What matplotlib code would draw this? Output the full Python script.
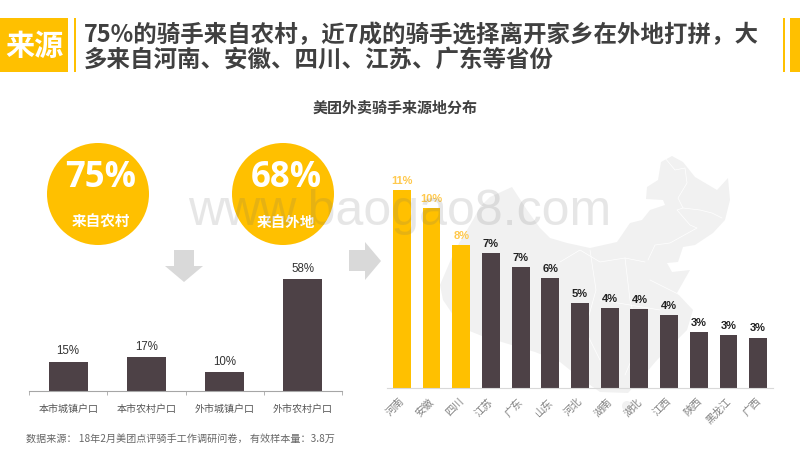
# -*- coding: utf-8 -*-
import matplotlib
matplotlib.use("Agg")
from matplotlib import pyplot as plt
from matplotlib.patches import Circle, Polygon, Rectangle
from matplotlib.ticker import FixedLocator
from matplotlib.transforms import ScaledTranslation

plt.rcParams['font.family'] = ['Noto Sans CJK SC', 'DejaVu Sans']

##############################################################################
# DATA
##############################################################################

HUKOU_NAMES = ['本市城镇户口', '本市农村户口', '外市城镇户口', '外市农村户口']
HUKOU_VALUES = [15.2, 17.4, 9.8, 58]
HUKOU_LABELS = ['15%', '17%', '10%', '58%']

PROVINCES = ['河南', '安徽', '四川', '江苏', '广东', '山东', '河北', '湖南', '湖北',
             '江西', '陕西', '黑龙江', '广西']
PROVINCE_VALUES = [11, 10, 7.95, 7.5, 6.7, 6.1, 4.7, 4.45, 4.4, 4.05, 3.1, 2.95, 2.8]
PROVINCE_LABELS = ['11%', '10%', '8%', '7%', '7%', '6%', '5%', '4%', '4%', '4%', '3%', '3%', '3%']
NB_HIGHLIGHT = 3

TITLE_1 = '75%的骑手来自农村，近7成的骑手选择离开家乡在外地打拼，大'
TITLE_2 = '多来自河南、安徽、四川、江苏、广东等省份'
SUBTITLE = '美团外卖骑手来源地分布'
SOURCE = '数据来源： 18年2月美团点评骑手工作调研问卷， 有效样本量：3.8万'

YELLOW = '#FFC000'
DARK = '#4D4146'
TEXT = '#404040'

# contour de la carte en fond (pixels de la figure)
MAP_OUTLINE = [(512, 187), (527, 210), (540, 228), (550, 238), (567, 243), (590, 248),
               (617, 242), (630, 223), (642, 220), (650, 210), (665, 205), (663, 200),
               (646, 199), (647, 187), (658, 180), (661, 162), (672, 156), (683, 162),
               (695, 177), (717, 190), (728, 178), (730, 200), (725, 220), (713, 233),
               (695, 245), (683, 247), (678, 262), (667, 263), (672, 272), (690, 270),
               (677, 293), (693, 310), (687, 330), (657, 360), (640, 380), (628, 393),
               (600, 392), (580, 378), (560, 362), (535, 352), (505, 343), (482, 336),
               (462, 328), (443, 300), (440, 285), (455, 250), (473, 220), (480, 207),
               (490, 197)]
MAP_BORDERS = [[(665, 158), (675, 170), (685, 168), (687, 183), (678, 198), (683, 208),
                (677, 210), (690, 225), (697, 228), (670, 243), (655, 245), (648, 260)],
               [(683, 208), (700, 210), (712, 213), (722, 218)],
               [(560, 262), (580, 250), (600, 262), (625, 258), (645, 262)],
               [(590, 250), (596, 290), (585, 330), (600, 360)],
               [(625, 258), (630, 300), (640, 340), (625, 375)],
               [(650, 280), (680, 295)], [(600, 300), (660, 310)]]

##############################################################################
# FIGURE
##############################################################################

fig = plt.figure(figsize=(8, 4.5), dpi=100)

# calque en pixels pour tout ce qui n'est pas un graphique
bg = fig.add_axes([0, 0, 1, 1], zorder=0)
bg.set_xlim(0, 800)
bg.set_ylim(450, 0)
bg.axis('off')

bg.add_patch(Rectangle((0, 18), 68, 54, color=YELLOW, lw=0))
bg.add_patch(Rectangle((74, 18), 2, 54, color=YELLOW, lw=0))
bg.add_patch(Rectangle((783, 18), 2, 54, color=YELLOW, lw=0))
bg.add_patch(Rectangle((790, 18), 10, 54, color=YELLOW, lw=0))
bg.text(34, 46, '来源', color='white', fontsize=21, fontweight='bold', ha='center', va='center')

bg.text(84, 35, TITLE_1, color=TEXT, fontsize=16.9, fontweight='bold', va='center')
bg.text(84, 60, TITLE_2, color=TEXT, fontsize=16.9, fontweight='bold', va='center')
bg.text(395, 108, SUBTITLE, color=TEXT, fontsize=10.8, fontweight='bold', ha='center', va='center')
bg.text(26, 439, SOURCE, color='#666666', fontsize=7.25, va='center')

bg.add_patch(Polygon(MAP_OUTLINE, closed=True, color='#F1F1F1', lw=0))
bg.add_patch(Circle((627, 406), 5, color='#F1F1F1', lw=0))
for border in MAP_BORDERS:
    bg.plot([p[0] for p in border], [p[1] for p in border], color='white', lw=0.5)

for cx, big, small in [(98, '75%', '来自农村'), (283, '68%', '来自外地')]:
    bg.add_patch(Circle((cx, 194), 51, color=YELLOW, lw=0))
    bg.text(cx + 3, 178, big, color='white', fontsize=25, fontweight='bold', family='Open Sans',
            ha='center', va='center')
    bg.text(cx + 3, 222, small, color='white', fontsize=10.5, fontweight='bold', ha='center', va='center')

bg.add_patch(Polygon([(174, 250), (194, 250), (194, 266), (203, 266), (184, 282), (165, 266), (174, 266)],
                     closed=True, color='#D9D9D9', lw=0))
bg.add_patch(Polygon([(349, 250), (365, 250), (365, 242), (381, 261), (365, 280), (365, 271), (349, 271)],
                     closed=True, color='#D9D9D9', lw=0))


def chart_axes(x0, x1, y_base, px_per_unit, nb, top_value):
    """Axes placés en pixels : baseline y_base, une catégorie par unité en x"""
    height = top_value * px_per_unit
    ax = fig.add_axes([x0 / 800, (450 - y_base) / 450, (x1 - x0) / 800, height / 450], zorder=1)
    ax.patch.set_alpha(0)
    ax.set_xlim(-0.5, nb - 0.5)
    ax.set_ylim(0, top_value)
    for side in ['top', 'left', 'right']:
        ax.spines[side].set_visible(False)
    ax.yaxis.set_visible(False)
    return ax


# Graphique de gauche : type de hukou
ax1 = chart_axes(29, 342, 391, 1.93, len(HUKOU_VALUES), 62)
xpos = range(len(HUKOU_VALUES))
ax1.bar(xpos, HUKOU_VALUES, width=0.5, color=DARK)
for x, v, label in zip(xpos, HUKOU_VALUES, HUKOU_LABELS):
    ax1.annotate(label, (x, v), xytext=(0, 3), textcoords='offset points', ha='center', va='bottom',
                 fontsize=8.3, color='#333333', family='Liberation Sans')
ax1.spines['bottom'].set_color('#A6A6A6')
ax1.spines['bottom'].set_linewidth(0.8)
ax1.set_xticks(list(xpos))
ax1.set_xticklabels(HUKOU_NAMES, fontsize=7.2, color='#555555')
ax1.tick_params(axis='x', which='major', length=0, pad=9)
ax1.xaxis.set_minor_locator(FixedLocator([i - 0.5 for i in range(len(HUKOU_VALUES) + 1)]))
ax1.tick_params(axis='x', which='minor', length=3, width=0.6, color='#A6A6A6')

# Graphique de droite : provinces
ax2 = chart_axes(387, 773, 388, 18, len(PROVINCES), 12)
xpos = range(len(PROVINCES))
colors = [YELLOW if i < NB_HIGHLIGHT else DARK for i in xpos]
ax2.bar(xpos, PROVINCE_VALUES, width=0.6, color=colors)
for x, v, label in zip(xpos, PROVINCE_VALUES, PROVINCE_LABELS):
    c = '#FFC94D' if x < NB_HIGHLIGHT else '#222222'
    ax2.annotate(label, (x, v), xytext=(0, 3), textcoords='offset points', ha='center', va='bottom',
                 fontsize=8, color=c, fontweight='bold', family='Liberation Sans')
ax2.spines['bottom'].set_color('#D9D9D9')
ax2.spines['bottom'].set_linewidth(0.8)
ax2.set_xticks(list(xpos))
ax2.set_xticklabels(PROVINCES, fontsize=7.5, color='#808080', rotation=45, ha='right',
                    rotation_mode='anchor')
ax2.tick_params(axis='x', length=0, pad=6)
shift = ScaledTranslation(-2 / 72, 0, fig.dpi_scale_trans)
for tick_label in ax2.get_xticklabels():
    tick_label.set_transform(tick_label.get_transform() + shift)

# Filigrane par-dessus tout
fig.text(188 / 800, (450 - 225) / 450, 'www.baogao8.com', color='#707070', alpha=0.17, fontsize=36,
         family='Liberation Sans', va='baseline', zorder=5)

fig.savefig('out.png', dpi=100)
